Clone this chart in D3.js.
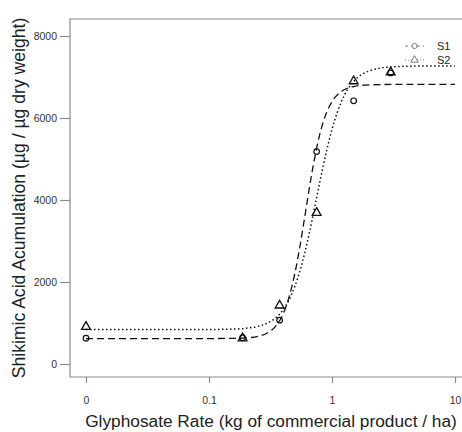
<!DOCTYPE html>
<html>
<head>
<meta charset="utf-8">
<script src="https://cdn.jsdelivr.net/npm/d3@7"></script>
<style>
  html, body { margin: 0; padding: 0; background: #fff; }
  svg { display: block; }
  text { font-family: "Liberation Sans", Arial, Helvetica, sans-serif; }
</style>
</head>
<body>
<div id="chart"></div>
<script>
// ---- data ----
const doses = [0.01, 0.1875, 0.375, 0.75, 1.5, 3];   // 0 dose plotted at 0.01
const s1Values = [630, 640, 1070, 5180, 6420, 7100];
const s2Values = [920, 640, 1440, 3700, 6910, 7130];

const curveDoses = [0.01, 0.05, 0.1, 0.15, 0.2, 0.25, 0.3, 0.35, 0.4, 0.45, 0.5, 0.55, 0.6, 0.65, 0.7, 0.75, 0.8, 0.9, 1.0, 1.2, 1.5, 2, 3, 5, 10];
const s1Curve = [620, 620, 621, 624, 637, 674, 761, 931, 1217, 1653, 2223, 2890, 3584, 4236, 4800, 5264, 5630, 6120, 6398, 6653, 6768, 6808, 6818, 6820, 6820];
const s2Curve = [840, 840, 842, 850, 872, 918, 1001, 1131, 1321, 1578, 1901, 2282, 2709, 3159, 3614, 4055, 4468, 5178, 5724, 6419, 6892, 7145, 7245, 7267, 7270];

const xTickValues = [0.01, 0.1, 1, 10];
const xTickLabels = ["0", "0.1", "1", "10"];
const yTickValues = [0, 2000, 4000, 6000, 8000];
const seriesNames = ["S1", "S2"];

// ---- layout ----
const W = 462, H = 432;
const svg = d3.select("#chart").append("svg").attr("width", W).attr("height", H);
svg.append("rect").attr("width", W).attr("height", H).attr("fill", "#fff");

const x = d3.scaleLog().domain([0.01, 10]).range([86, 455]);
const y = d3.scaleLinear().domain([0, 8000]).range([364, 36]);

const boxLeft = 70, boxTop = 19, boxBottom = 377, boxRight = 480;
const axisColor = "#8a8a8a";

// box (right edge is outside the picture)
svg.append("path")
  .attr("d", `M${boxRight},${boxTop}H${boxLeft}V${boxBottom}H${boxRight}`)
  .attr("fill", "none").attr("stroke", axisColor).attr("stroke-width", 1.2);

// x axis
const xAxis = d3.axisBottom(x).tickValues(xTickValues)
  .tickFormat((d, i) => xTickLabels[i]).tickSize(6).tickPadding(14);
const gx = svg.append("g").attr("transform", `translate(0,${boxBottom})`).call(xAxis);
gx.select(".domain").remove();
gx.selectAll(".tick line").attr("stroke", axisColor).attr("stroke-width", 1.2);
gx.selectAll(".tick text").attr("fill", "#333").attr("font-size", "10.5px");

// y axis
const yAxis = d3.axisLeft(y).tickValues(yTickValues).tickFormat(d3.format("d"))
  .tickSize(10).tickPadding(3);
const gy = svg.append("g").attr("transform", `translate(${boxLeft},0)`).call(yAxis);
gy.select(".domain").remove();
gy.selectAll(".tick line").attr("stroke", axisColor).attr("stroke-width", 1.2);
gy.selectAll(".tick text").attr("fill", "#333").attr("font-size", "10.5px");

// axis titles
svg.append("text").attr("x", 271).attr("y", 427).attr("text-anchor", "middle")
  .attr("font-size", "17.3px").attr("fill", "#222")
  .text("Glyphosate Rate (kg of commercial product / ha)");
svg.append("text").attr("transform", "translate(25,198) rotate(-90)")
  .attr("text-anchor", "middle").attr("font-size", "17.6px").attr("fill", "#222")
  .text("Shikimic Acid Acumulation (µg / µg dry weight)");

// curves
const line = d3.line().x(d => x(d[0])).y(d => y(d[1])).curve(d3.curveMonotoneX);
svg.append("path").datum(curveDoses.map((d, i) => [d, s1Curve[i]]))
  .attr("d", line).attr("fill", "none").attr("stroke", "#111")
  .attr("stroke-width", 1.3).attr("stroke-dasharray", "7,4");
svg.append("path").datum(curveDoses.map((d, i) => [d, s2Curve[i]]))
  .attr("d", line).attr("fill", "none").attr("stroke", "#111")
  .attr("stroke-width", 1.5).attr("stroke-dasharray", "1.5,2.5");

// points
const tri = d3.symbol().type(d3.symbolTriangle).size(34);
svg.append("g").selectAll("circle").data(doses.map((d, i) => [d, s1Values[i]]))
  .join("circle").attr("cx", d => x(d[0])).attr("cy", d => y(d[1])).attr("r", 2.8)
  .attr("fill", "none").attr("stroke", "#111").attr("stroke-width", 1.2);
svg.append("g").selectAll("path").data(doses.map((d, i) => [d, s2Values[i]]))
  .join("path").attr("d", tri)
  .attr("transform", d => `translate(${x(d[0])},${y(d[1]) + 0.5})`)
  .attr("fill", "none").attr("stroke", "#111").attr("stroke-width", 1.3);

// legend
const leg = svg.append("g");
const legY = [46, 60];
const legColor = "#777";
leg.append("line").attr("x1", 405).attr("x2", 424).attr("y1", legY[0]).attr("y2", legY[0])
  .attr("stroke", legColor).attr("stroke-dasharray", "3,3").attr("stroke-width", 1);
leg.append("circle").attr("cx", 414.5).attr("cy", legY[0]).attr("r", 2.6)
  .attr("fill", "#fff").attr("stroke", legColor);
leg.append("line").attr("x1", 405).attr("x2", 424).attr("y1", legY[1]).attr("y2", legY[1])
  .attr("stroke", legColor).attr("stroke-dasharray", "1,2").attr("stroke-width", 1);
leg.append("path").attr("d", d3.symbol().type(d3.symbolTriangle).size(24))
  .attr("transform", `translate(414.5,${legY[1]})`)
  .attr("fill", "#fff").attr("stroke", legColor);
seriesNames.forEach((n, i) => {
  leg.append("text").attr("x", 437).attr("y", legY[i] + 4).attr("font-size", "11px")
    .attr("fill", "#222").text(n);
});
</script>
</body>
</html>
